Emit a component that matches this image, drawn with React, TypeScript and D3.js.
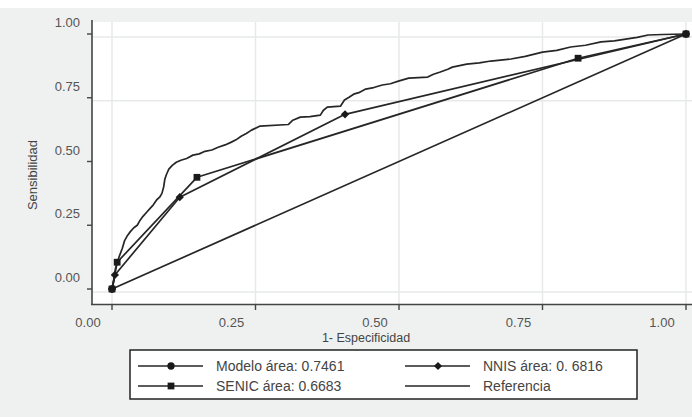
import React, { useRef, useEffect } from 'react'
import * as d3 from 'd3'

// ROC points: [1 - especificidad, sensibilidad]
const modelo: [number, number][] = [
  [0, 0], [0.004, 0.04], [0.006, 0.08], [0.01, 0.11], [0.013, 0.13], [0.018, 0.16],
  [0.022, 0.19], [0.027, 0.21], [0.032, 0.225], [0.038, 0.24], [0.044, 0.25],
  [0.049, 0.27], [0.054, 0.285], [0.06, 0.3], [0.066, 0.315], [0.072, 0.33],
  [0.078, 0.35], [0.083, 0.36], [0.087, 0.375], [0.09, 0.4], [0.092, 0.43],
  [0.095, 0.45], [0.099, 0.47], [0.105, 0.485], [0.112, 0.497], [0.12, 0.505],
  [0.13, 0.512], [0.141, 0.525], [0.152, 0.53], [0.162, 0.54], [0.174, 0.545],
  [0.185, 0.556], [0.197, 0.565], [0.208, 0.576], [0.216, 0.585], [0.225, 0.599],
  [0.234, 0.61], [0.243, 0.623], [0.258, 0.639], [0.307, 0.645], [0.315, 0.662],
  [0.328, 0.674], [0.345, 0.676], [0.363, 0.682], [0.368, 0.7], [0.375, 0.713],
  [0.398, 0.717], [0.405, 0.741], [0.413, 0.752], [0.421, 0.764], [0.43, 0.77],
  [0.442, 0.784], [0.456, 0.79], [0.471, 0.8], [0.485, 0.805], [0.499, 0.815],
  [0.517, 0.827], [0.55, 0.831], [0.56, 0.842], [0.572, 0.851], [0.585, 0.862],
  [0.593, 0.87], [0.618, 0.882], [0.64, 0.887], [0.66, 0.894], [0.695, 0.902],
  [0.72, 0.912], [0.75, 0.929], [0.775, 0.936], [0.799, 0.949], [0.825, 0.956],
  [0.852, 0.969], [0.875, 0.973], [0.895, 0.98], [0.915, 0.987], [0.934, 0.996],
  [0.96, 0.998], [1, 1],
]
const nnis: [number, number][] = [[0, 0], [0.005, 0.055], [0.118, 0.36], [0.406, 0.685], [1, 1]]
const senic: [number, number][] = [[0, 0], [0.009, 0.105], [0.148, 0.438], [0.812, 0.905], [1, 1]]
const referencia: [number, number][] = [[0, 0], [1, 1]]

const ticks = [0, 0.25, 0.5, 0.75, 1]
const gridY = [0, 0.75, 1]

const legendItems = [
  { label: 'Modelo área: 0.7461', marker: 'circle' },
  { label: 'NNIS área: 0. 6816', marker: 'diamond' },
  { label: 'SENIC área: 0.6683', marker: 'square' },
  { label: 'Referencia', marker: 'none' },
]

const ink = '#262626'
const font = 'Liberation Sans, Arial, sans-serif'

const Chart: React.FC = () => {
  const ref = useRef(null)
  useEffect(() => {
    const svg = d3.select(ref.current)
    svg.selectAll('*').remove()

    const x = d3.scaleLinear().domain([0, 1]).range([112, 686])
    const y = d3.scaleLinear().domain([0, 1]).range([289, 34])

    svg.append('rect').attr('x', 0).attr('y', 8).attr('width', 692).attr('height', 409).attr('fill', '#eff1f0')
    svg.append('rect').attr('x', 92).attr('y', 22).attr('width', 600).attr('height', 282).attr('fill', '#fff')

    // grid
    svg.append('g')
      .selectAll('line')
      .data(ticks)
      .join('line')
      .attr('x1', d => x(d)).attr('x2', d => x(d))
      .attr('y1', 22).attr('y2', 304)
      .attr('stroke', '#e7e9e9').attr('stroke-width', 1.5)
    svg.append('g')
      .selectAll('line')
      .data(gridY)
      .join('line')
      .attr('x1', 92).attr('x2', 692)
      .attr('y1', d => y(d) + 3).attr('y2', d => y(d) + 3)
      .attr('stroke', '#e7e9e9').attr('stroke-width', 1.5)

    // axes
    svg.append('line').attr('x1', 92).attr('x2', 92).attr('y1', 20).attr('y2', 305)
      .attr('stroke', '#444').attr('stroke-width', 1.6)
    svg.append('line').attr('x1', 91).attr('x2', 692).attr('y1', 304.5).attr('y2', 304.5)
      .attr('stroke', '#444').attr('stroke-width', 1.6)

    const yAxis = svg.append('g')
    yAxis.selectAll('line').data(ticks).join('line')
      .attr('x1', 87).attr('x2', 92).attr('y1', d => y(d)).attr('y2', d => y(d))
      .attr('stroke', '#444').attr('stroke-width', 1.4)
    yAxis.selectAll('text').data(ticks).join('text')
      .attr('x', 80).attr('y', d => y(d) - 7)
      .attr('text-anchor', 'end')
      .style('font', `13px ${font}`).attr('fill', '#555')
      .text(d => d3.format('.2f')(d))

    const xAxis = svg.append('g')
    xAxis.selectAll('line').data(ticks).join('line')
      .attr('x1', d => x(d)).attr('x2', d => x(d)).attr('y1', 304).attr('y2', 310)
      .attr('stroke', '#444').attr('stroke-width', 1.4)
    xAxis.selectAll('text').data(ticks).join('text')
      .attr('x', d => x(d) - 24).attr('y', 327)
      .attr('text-anchor', 'middle')
      .style('font', `13px ${font}`).attr('fill', '#555')
      .text(d => d3.format('.2f')(d))

    svg.append('text').attr('x', 366).attr('y', 342).attr('text-anchor', 'middle')
      .style('font', `12.5px ${font}`).attr('fill', '#444').text('1- Especificidad')
    svg.append('text').attr('transform', 'translate(37,175) rotate(-90)').attr('text-anchor', 'middle')
      .style('font', `13px ${font}`).attr('fill', '#444').text('Sensibilidad')

    // curves
    const line = d3.line<[number, number]>().x(d => x(d[0])).y(d => y(d[1]))
    const plot = svg.append('g').attr('fill', 'none').attr('stroke', ink).attr('stroke-width', 1.7)
      .attr('stroke-linejoin', 'round')
    ;[referencia, senic, nnis, modelo].forEach(s => plot.append('path').attr('d', line(s)))

    const sym = (kind: string) => {
      if (kind === 'circle') return d3.symbol(d3.symbolCircle, 42)()
      return d3.symbol(d3.symbolSquare, kind === 'square' ? 46 : 34)()
    }
    const rot = (kind: string) => (kind === 'diamond' ? ' rotate(45)' : '')
    svg.append('g').selectAll('path').data(nnis).join('path')
      .attr('transform', d => `translate(${x(d[0])},${y(d[1])})${rot('diamond')}`)
      .attr('d', sym('diamond')).attr('fill', '#1a1a1a')
    svg.append('g').selectAll('path').data(senic).join('path')
      .attr('transform', d => `translate(${x(d[0])},${y(d[1])})`)
      .attr('d', sym('square')).attr('fill', '#1a1a1a')
    svg.append('g').selectAll('path').data([modelo[0], modelo[modelo.length - 1]]).join('path')
      .attr('transform', d => `translate(${x(d[0])},${y(d[1])})`)
      .attr('d', sym('circle')).attr('fill', '#1a1a1a')

    // legend
    const lg = svg.append('g')
    lg.append('rect').attr('x', 130).attr('y', 350).attr('width', 507).attr('height', 49)
      .attr('fill', '#fff').attr('stroke', '#222').attr('stroke-width', 1.5)
    legendItems.forEach((it, i) => {
      const cx = i % 2 === 0 ? 138 : 405
      const cy = i < 2 ? 366 : 386
      lg.append('line').attr('x1', cx).attr('x2', cx + 65).attr('y1', cy).attr('y2', cy)
        .attr('stroke', ink).attr('stroke-width', 1.6)
      if (it.marker !== 'none') {
        lg.append('path').attr('transform', `translate(${cx + 33},${cy})${rot(it.marker)}`)
          .attr('d', sym(it.marker)).attr('fill', '#1a1a1a')
      }
      lg.append('text').attr('x', cx + 78).attr('y', cy + 5)
        .style('font', `14px ${font}`).attr('fill', '#444').text(it.label)
    })
  }, [])

  return <svg width={692} height={417} ref={ref} style={{ display: 'block' }}></svg>
}

const App: React.FC = () => (
  <div style={{ position: 'fixed', left: 0, top: 0, background: '#fff' }}>
    <Chart />
  </div>
)

export default App
